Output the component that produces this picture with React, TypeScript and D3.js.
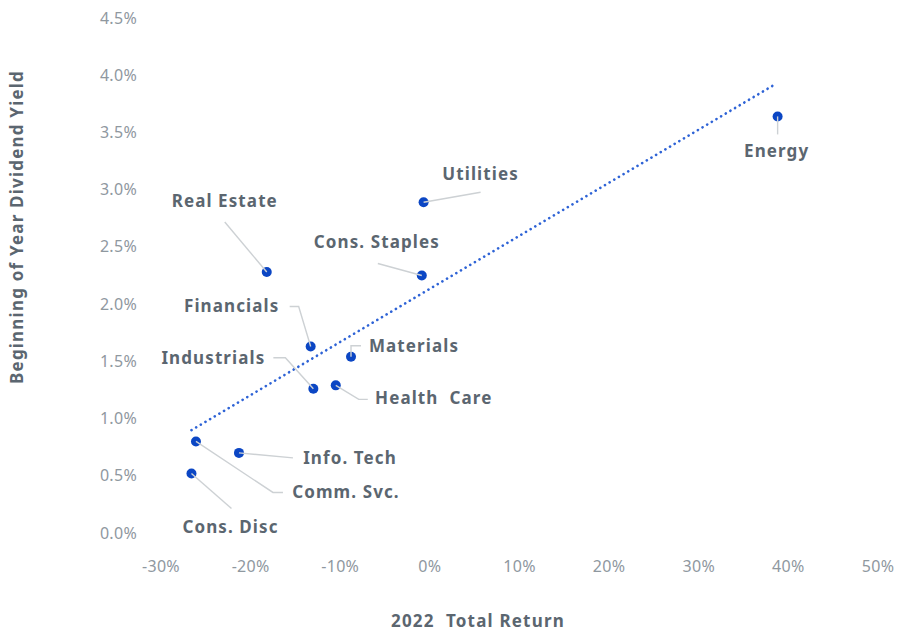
import { useEffect, useRef } from "react";
import * as d3 from "d3";

const sectors = ["Energy", "Utilities", "Cons. Staples", "Real Estate", "Financials", "Materials", "Industrials", "Health  Care", "Info. Tech", "Comm. Svc.", "Cons. Disc"];
const totalReturn = [38.8, -0.7, -0.9, -18.2, -13.3, -8.8, -13.0, -10.5, -21.3, -26.1, -26.6];
const dividendYield = [3.64, 2.89, 2.25, 2.28, 1.63, 1.54, 1.26, 1.29, 0.70, 0.80, 0.52];
const xTicks = [-30, -20, -10, 0, 10, 20, 30, 40, 50];
const yTicks = [0, 0.5, 1, 1.5, 2, 2.5, 3, 3.5, 4, 4.5];

// label placement, pixel offsets from each marker: [label centre, ...leader bends]
const labelSpots: Record<string, { at: [number, number]; leader: [number, number][] }> = {
  "Energy": { at: [-1, 35], leader: [[0, 18]] },
  "Utilities": { at: [57, -28], leader: [[57, -10]] },
  "Cons. Staples": { at: [-45, -33], leader: [[-44, -12]] },
  "Real Estate": { at: [-42, -71], leader: [[-42, -50]] },
  "Financials": { at: [-79, -40], leader: [[-12, -40], [-21, -40]] },
  "Materials": { at: [63, -11], leader: [[0, -11], [10, -11]] },
  "Industrials": { at: [-100, -31], leader: [[-28, -31], [-40, -31]] },
  "Health  Care": { at: [98, 13], leader: [[23, 14], [32, 14]] },
  "Info. Tech": { at: [111, 5], leader: [[54, 5]] },
  "Comm. Svc.": { at: [150, 51], leader: [[77, 51], [87, 51]] },
  "Cons. Disc": { at: [39, 54], leader: [[40, 35]] },
};

export default function App() {
  const svgRef = useRef<SVGSVGElement>(null);

  useEffect(() => {
    if (!svgRef.current) return;
    const width = 900;
    const height = 635;
    const svg = d3.select(svgRef.current).attr("width", width).attr("height", height);
    svg.selectAll("*").remove();

    const font = "'Noto Sans', sans-serif";
    const x = d3.scaleLinear().domain([-30, 50]).range([161, 878]);
    const y = d3.scaleLinear().domain([0, 4.5]).range([533, 18]);

    // tick labels
    svg.append("g").selectAll("text")
      .data(yTicks)
      .enter()
      .append("text")
      .attr("x", 137)
      .attr("y", (d) => y(d))
      .attr("dy", "0.35em")
      .attr("text-anchor", "end")
      .attr("font-family", font)
      .attr("font-size", 16)
      .attr("letter-spacing", "0.3px")
      .attr("fill", "#8f989f")
      .text((d) => d3.format(".1f")(d) + "%");

    svg.append("g").selectAll("text")
      .data(xTicks)
      .enter()
      .append("text")
      .attr("x", (d) => x(d))
      .attr("y", 566)
      .attr("dy", "0.35em")
      .attr("text-anchor", "middle")
      .attr("font-family", font)
      .attr("font-size", 16)
      .attr("letter-spacing", "0.3px")
      .attr("fill", "#8f989f")
      .text((d) => d + "%");

    // axis titles
    svg.append("text")
      .attr("transform", "translate(17,227) rotate(-90)")
      .attr("dy", "0.35em")
      .attr("text-anchor", "middle")
      .attr("font-family", font)
      .attr("font-weight", "bold")
      .attr("font-size", 17)
      .attr("letter-spacing", "1.2px")
      .attr("fill", "#5b6670")
      .text("Beginning of Year Dividend Yield");

    svg.append("text")
      .attr("x", 478)
      .attr("y", 621)
      .attr("dy", "0.35em")
      .attr("text-anchor", "middle")
      .attr("font-family", font)
      .attr("font-weight", "bold")
      .attr("font-size", 17)
      .attr("letter-spacing", "1.2px")
      .attr("fill", "#5b6670")
      .style("white-space", "pre")
      .text("2022  Total Return");

    // least squares trend line over the x extent of the data
    const mx = d3.mean(totalReturn)!;
    const my = d3.mean(dividendYield)!;
    const slope = d3.sum(totalReturn, (v, i) => (v - mx) * (dividendYield[i] - my)) /
      d3.sum(totalReturn, (v) => (v - mx) ** 2);
    const [x0, x1] = d3.extent(totalReturn) as [number, number];
    const trend = d3.line<number>().x((d) => x(d)).y((d) => y(my + slope * (d - mx)));
    svg.append("path")
      .attr("d", trend([x0, x1 - 0.4]))
      .attr("fill", "none")
      .attr("stroke", "#2e63d6")
      .attr("stroke-width", 2.6)
      .attr("stroke-linecap", "round")
      .attr("stroke-dasharray", "0.1 5.3");

    const pts = sectors.map((name, i) => ({ name, px: x(totalReturn[i]), py: y(dividendYield[i]) }));

    svg.append("g").selectAll("circle")
      .data(pts)
      .enter()
      .append("circle")
      .attr("cx", (d) => d.px)
      .attr("cy", (d) => d.py)
      .attr("r", 5)
      .attr("fill", "#0b46c4");

    const leader = d3.line();
    svg.append("g").selectAll("path")
      .data(pts)
      .enter()
      .append("path")
      .attr("d", (d) => leader([[d.px, d.py], ...labelSpots[d.name].leader.map(([a, b]) => [d.px + a, d.py + b] as [number, number])]))
      .attr("fill", "none")
      .attr("stroke", "#cdd1d4")
      .attr("stroke-width", 1.4);

    svg.append("g").selectAll("text")
      .data(pts)
      .enter()
      .append("text")
      .attr("x", (d) => d.px + labelSpots[d.name].at[0])
      .attr("y", (d) => d.py + labelSpots[d.name].at[1])
      .attr("dy", "0.35em")
      .attr("text-anchor", "middle")
      .attr("font-family", font)
      .attr("font-weight", "bold")
      .attr("font-size", 17)
      .attr("letter-spacing", "1.1px")
      .attr("fill", "#5b6670")
      .style("white-space", "pre")
      .text((d) => d.name);
  }, []);

  return (
    <div style={{ position: "absolute", left: 0, top: 0, background: "#fff" }}>
      <svg ref={svgRef} style={{ display: "block" }} />
    </div>
  );
}
